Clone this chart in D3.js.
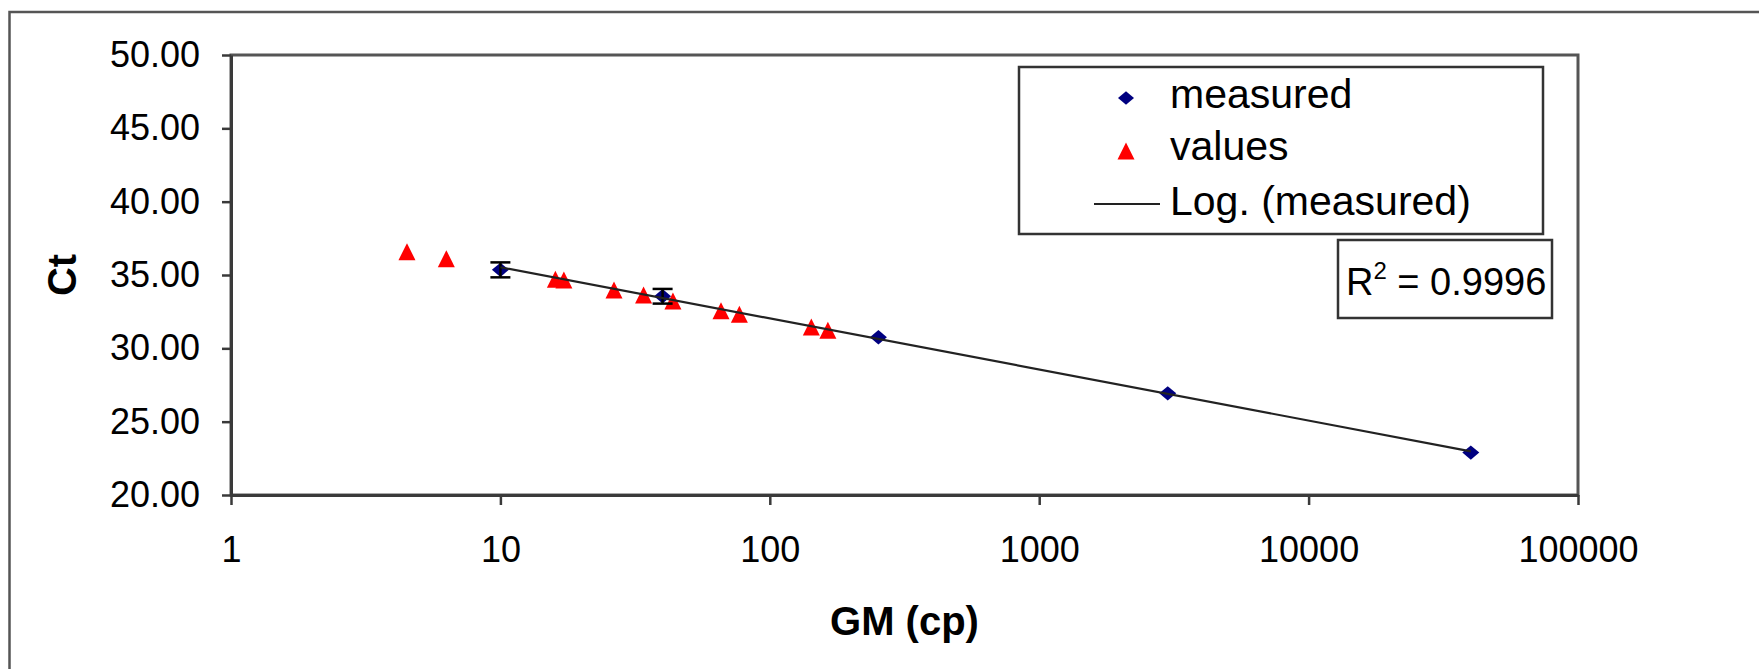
<!DOCTYPE html>
<html>
<head>
<meta charset="utf-8">
<script src="https://cdnjs.cloudflare.com/ajax/libs/d3/7.8.5/d3.min.js"></script>
<style>
  body { margin: 0; background: #fff; }
  svg text { font-family: "Liberation Sans", Arial, sans-serif; fill: #000; }
</style>
</head>
<body>
<div id="chart"></div>
<script>
// measured standards (blue diamonds, with error bars)
var measuredX = [10, 40, 253, 3000, 40000];
var measuredY = [35.35, 33.55, 30.75, 26.93, 22.89];
var measuredErr = [0.51, 0.5, 0, 0, 0];

// sample values (red triangles)
var valuesX = [4.5, 6.3, 16.0, 17.2, 26.4, 34.0, 43.7, 65.9, 77.1, 142.6, 164.3];
var valuesY = [36.59, 36.11, 34.71, 34.66, 33.98, 33.64, 33.23, 32.57, 32.32, 31.45, 31.23];

// axes
var xTicks = [1, 10, 100, 1000, 10000, 100000];
var yTicks = [20, 25, 30, 35, 40, 45, 50];
var legendLabels = ["measured", "values", "Log. (measured)"];
var r2Value = "0.9996";

var width = 1759,
    height = 669,
    plot = { left: 231, right: 1578, top: 55, bottom: 495 };

var svg = d3.select("#chart")
    .append("svg")
    .attr("width", width)
    .attr("height", height);

svg.append("rect")
    .attr("width", width)
    .attr("height", height)
    .attr("fill", "#fff");

// outer chart frame (cut off at right and bottom)
svg.append("path")
    .attr("d", "M9.5," + height + "V12H" + width)
    .attr("fill", "none")
    .attr("stroke", "#555")
    .attr("stroke-width", 2.5);

var x = d3.scaleLog()
    .domain([1, 100000])
    .range([plot.left, plot.right]);

var y = d3.scaleLinear()
    .domain([20, 50])
    .range([plot.bottom, plot.top]);

// plot area border
svg.append("rect")
    .attr("x", plot.left)
    .attr("y", plot.top)
    .attr("width", plot.right - plot.left)
    .attr("height", plot.bottom - plot.top)
    .attr("fill", "none")
    .attr("stroke", "#555")
    .attr("stroke-width", 3);

var xAxis = svg.append("g")
    .attr("transform", "translate(0," + plot.bottom + ")")
    .call(d3.axisBottom(x)
        .tickValues(xTicks)
        .tickFormat(d3.format("d"))
        .tickSize(10)
        .tickSizeOuter(0)
        .tickPadding(31));

var yAxis = svg.append("g")
    .attr("transform", "translate(" + plot.left + ",0)")
    .call(d3.axisLeft(y)
        .tickValues(yTicks)
        .tickFormat(d3.format(".2f"))
        .tickSize(9)
        .tickSizeOuter(0)
        .tickPadding(22));

[xAxis, yAxis].forEach(function(g) {
    g.attr("font-size", 36).attr("font-family", null);
    g.select(".domain").attr("stroke", "#3a3a3a").attr("stroke-width", 3);
    g.selectAll(".tick line").attr("stroke", "#3a3a3a").attr("stroke-width", 2.5);
    g.selectAll(".tick text").attr("fill", "#000");
});

// axis titles
svg.append("text")
    .attr("transform", "translate(76," + ((plot.top + plot.bottom) / 2) + ") rotate(-90)")
    .attr("text-anchor", "middle")
    .attr("font-size", 40)
    .attr("font-weight", "bold")
    .text("Ct");

svg.append("text")
    .attr("x", (plot.left + plot.right) / 2)
    .attr("y", 635)
    .attr("text-anchor", "middle")
    .attr("font-size", 40)
    .attr("font-weight", "bold")
    .text("GM (cp)");

// custom marker shapes, closer to the Excel ones than d3's built-ins
var diamondType = {
    draw: function(ctx, s) {
        ctx.moveTo(0, -s * 0.85);
        ctx.lineTo(s, 0);
        ctx.lineTo(0, s * 0.85);
        ctx.lineTo(-s, 0);
        ctx.closePath();
    }
};
var triangleType = {
    draw: function(ctx, s) {
        ctx.moveTo(0, -s);
        ctx.lineTo(s, s);
        ctx.lineTo(-s, s);
        ctx.closePath();
    }
};

var measured = measuredX.map(function(d, i) {
    return { x: d, y: measuredY[i], err: measuredErr[i] };
});
var values = valuesX.map(function(d, i) {
    return { x: d, y: valuesY[i] };
});

// red triangles
svg.append("g").selectAll("path")
    .data(values)
    .enter()
    .append("path")
    .attr("transform", function(d) { return "translate(" + x(d.x) + "," + y(d.y) + ")"; })
    .attr("d", d3.symbol().type(triangleType).size(8.5))
    .attr("fill", "#ff0000");

// blue diamonds
svg.append("g").selectAll("path")
    .data(measured)
    .enter()
    .append("path")
    .attr("transform", function(d) { return "translate(" + x(d.x) + "," + y(d.y) + ")"; })
    .attr("d", d3.symbol().type(diamondType).size(8.5))
    .attr("fill", "#000080");

// error bars
var errG = svg.append("g")
    .attr("stroke", "#000")
    .attr("stroke-width", 2.5);

measured.filter(function(d) { return d.err > 0; }).forEach(function(d) {
    var cx = x(d.x), y0 = y(d.y - d.err), y1 = y(d.y + d.err);
    errG.append("line").attr("x1", cx).attr("x2", cx).attr("y1", y0).attr("y2", y1);
    errG.append("line").attr("x1", cx - 10).attr("x2", cx + 10).attr("y1", y0).attr("y2", y0);
    errG.append("line").attr("x1", cx - 10).attr("x2", cx + 10).attr("y1", y1).attr("y2", y1);
});

// logarithmic trendline (least squares of y on ln x)
function logFit(xs, ys) {
    var lx = xs.map(Math.log),
        mx = d3.mean(lx),
        my = d3.mean(ys),
        sxy = d3.sum(lx, function(v, i) { return (v - mx) * (ys[i] - my); }),
        sxx = d3.sum(lx, function(v) { return (v - mx) * (v - mx); }),
        a = sxy / sxx;
    return { a: a, b: my - a * mx };
}

var fit = logFit(measuredX, measuredY);
var trendX = d3.extent(measuredX);

var line = d3.line()
    .x(function(d) { return x(d); })
    .y(function(d) { return y(fit.a * Math.log(d) + fit.b); });

svg.append("path")
    .datum(trendX)
    .attr("d", line)
    .attr("fill", "none")
    .attr("stroke", "#222")
    .attr("stroke-width", 2.2);

// legend
var legend = svg.append("g");

legend.append("rect")
    .attr("x", 1019)
    .attr("y", 67)
    .attr("width", 524)
    .attr("height", 167)
    .attr("fill", "#fff")
    .attr("stroke", "#333")
    .attr("stroke-width", 2.5);

var rowY = [108, 160, 215];

legend.selectAll("text")
    .data(legendLabels)
    .enter()
    .append("text")
    .attr("x", 1170)
    .attr("y", function(d, i) { return rowY[i]; })
    .attr("font-size", 41)
    .text(function(d) { return d; });

legend.append("path")
    .attr("transform", "translate(1126," + (rowY[0] - 10) + ")")
    .attr("d", d3.symbol().type(diamondType).size(8))
    .attr("fill", "#000080");

legend.append("path")
    .attr("transform", "translate(1126," + (rowY[1] - 9) + ")")
    .attr("d", d3.symbol().type(triangleType).size(8.5))
    .attr("fill", "#ff0000");

legend.append("line")
    .attr("x1", 1094)
    .attr("x2", 1160)
    .attr("y1", rowY[2] - 11)
    .attr("y2", rowY[2] - 11)
    .attr("stroke", "#222")
    .attr("stroke-width", 2.2);

// R squared label
var r2 = svg.append("g");

r2.append("rect")
    .attr("x", 1338)
    .attr("y", 240)
    .attr("width", 214)
    .attr("height", 78)
    .attr("fill", "#fff")
    .attr("stroke", "#333")
    .attr("stroke-width", 2.5);

var r2Text = r2.append("text")
    .attr("x", 1346)
    .attr("y", 295)
    .attr("font-size", 38);

r2Text.append("tspan").text("R");
r2Text.append("tspan").attr("font-size", 24).attr("dy", -16).text("2");
r2Text.append("tspan").attr("dy", 16).text(" = " + r2Value);
</script>
</body>
</html>
